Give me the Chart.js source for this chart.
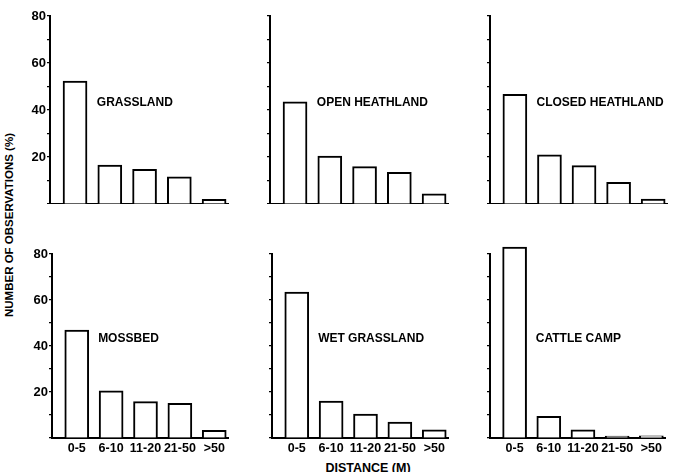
<!DOCTYPE html>
<html>
<head>
<meta charset="utf-8">
<script src="https://cdn.jsdelivr.net/npm/chart.js@4"></script>
<style>
  body { margin: 0; background: #fff; }
  #wrap { position: relative; width: 677px; height: 472px; overflow: hidden; font-family: "Liberation Sans", Arial, sans-serif; font-weight: bold; color: #000; }
  .panel { position: absolute; }
  #ytitle { position: absolute; left: 9px; top: 225px; transform: translate(-50%, -50%) rotate(-90deg); font-size: 11.5px; white-space: nowrap; }
  #xtitle { position: absolute; left: 368px; top: 461px; transform: translateX(-50%); font-size: 12.5px; white-space: nowrap; }
</style>
</head>
<body>
<div id="wrap">
  <div id="ytitle">NUMBER OF OBSERVATIONS (%)</div>
  <div id="xtitle">DISTANCE (M)</div>
</div>
<script>
const categories = ['0-5', '6-10', '11-20', '21-50', '>50'];
const yTicks = [20, 40, 60, 80];

const panelNames = [
    'GRASSLAND', 'OPEN HEATHLAND', 'CLOSED HEATHLAND',
    'MOSSBED', 'WET GRASSLAND', 'CATTLE CAMP'
];

const grassland      = [52.3, 16.6, 14.8, 11.6, 2];
const openHeathland  = [43.5, 20.4, 15.9, 13.5, 4.3];
const closedHeath    = [46.7, 20.9, 16.3, 9.2, 2.1];
const mossbed        = [46.9, 20.5, 15.8, 15.1, 3.3];
const wetGrassland   = [63.4, 16.1, 10.4, 6.9, 3.6];
const cattleCamp     = [83, 9.4, 3.6, 0.8, 0.9];

const panelValues = [grassland, openHeathland, closedHeath, mossbed, wetGrassland, cattleCamp];

// layout of each panel (pixel box of the plot area)
const boxes = [
    { x: 50,  top: 16,  bottom: 204, w: 178, row: 0, labels: true },
    { x: 270, top: 16,  bottom: 204, w: 178, row: 0, labels: false },
    { x: 490, top: 16,  bottom: 204, w: 177, row: 0, labels: false },
    { x: 52,  top: 254, bottom: 438, w: 176, row: 1, labels: true },
    { x: 272, top: 254, bottom: 438, w: 176, row: 1, labels: false },
    { x: 490, top: 254, bottom: 438, w: 175, row: 1, labels: false },
];

const FONT = '"Liberation Sans", Arial, sans-serif';
const INK = '#000';
const YW = 40, PADT = 12, PADR = 6;

const nameLabel = {
    id: 'nameLabel',
    afterDatasetsDraw(chart, args, opts) {
        const ctx = chart.ctx;
        const xs = chart.scales.x, ys = chart.scales.y;
        ctx.save();
        ctx.fillStyle = INK;
        ctx.font = 'bold 12px ' + FONT;
        ctx.textBaseline = 'middle';
        ctx.textAlign = 'left';
        ctx.fillText(opts.text, xs.getPixelForValue(1) - 13, ys.getPixelForValue(43));
        ctx.restore();
    }
};

const wrap = document.getElementById('wrap');

boxes.forEach((b, i) => {
    const xH = b.row === 1 ? 24 : 0;
    const div = document.createElement('div');
    div.className = 'panel';
    const w = YW + b.w + PADR;
    const h = PADT + (b.bottom - b.top) + xH;
    div.style.left = (b.x - YW) + 'px';
    div.style.top = (b.top - PADT) + 'px';
    div.style.width = w + 'px';
    div.style.height = h + 'px';
    const cv = document.createElement('canvas');
    div.appendChild(cv);
    wrap.appendChild(div);

    const vals = panelValues[i];
    new Chart(cv, {
        type: 'bar',
        data: {
            datasets: [{
                data: vals.map((v, k) => ({ x: k, y: v })),
                backgroundColor: '#fff',
                borderColor: INK,
                borderWidth: 2,
                barThickness: 24,
                clip: false
            }]
        },
        options: {
            responsive: true,
            maintainAspectRatio: false,
            animation: false,
            events: [],
            layout: { padding: { top: PADT, right: PADR, left: 0, bottom: 0 } },
            plugins: {
                legend: { display: false },
                tooltip: { enabled: false },
                nameLabel: { text: panelNames[i] }
            },
            scales: {
                x: {
                    type: 'linear',
                    offset: false,
                    min: -0.72,
                    max: 4.4,
                    afterBuildTicks: s => { s.ticks = categories.map((c, k) => ({ value: k })); },
                    afterFit: s => { s.height = xH; s.paddingLeft = 0; s.paddingRight = 0; },
                    grid: { display: false, drawTicks: false },
                    border: { color: INK, width: 2 },
                    ticks: {
                        display: b.row === 1,
                        autoSkip: false,
                        maxRotation: 0,
                        minRotation: 0,
                        padding: 3,
                        color: INK,
                        font: { family: FONT, size: 12.5, weight: 'bold' },
                        callback: v => categories[v]
                    }
                },
                y: {
                    min: 0,
                    max: 80,
                    afterFit: s => { s.width = YW; s.paddingTop = 0; s.paddingBottom = 0; },
                    grid: { drawOnChartArea: false, tickLength: 3, color: INK, lineWidth: 1.2 },
                    border: { color: INK, width: 2 },
                    ticks: {
                        stepSize: 10,
                        padding: 1,
                        color: INK,
                        font: { family: FONT, size: 13, weight: 'bold' },
                        callback: v => (b.labels && yTicks.includes(v)) ? String(v) : ''
                    }
                }
            }
        },
        plugins: [nameLabel]
    });
});
</script>
</body>
</html>
